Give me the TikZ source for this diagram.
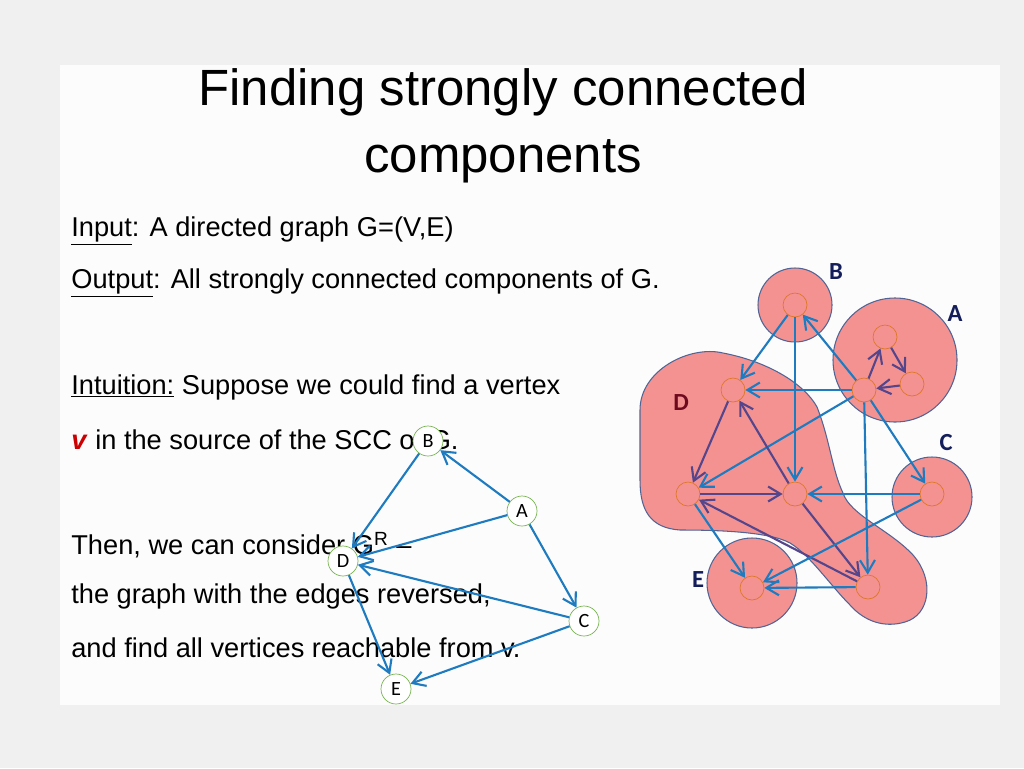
\documentclass[tikz,border=0pt]{standalone}
\usepackage{fontspec}
\setmainfont{Liberation Sans}
\newfontfamily\lblfont{Carlito}
\usetikzlibrary{arrows.meta}
\definecolor{edgeblue}{RGB}{31,123,192}
\definecolor{edgepurple}{RGB}{85,70,140}
\definecolor{blobred}{RGB}{244,146,146}
\definecolor{blobline}{RGB}{80,100,150}
\definecolor{vtxline}{RGB}{220,120,40}
\definecolor{navy}{RGB}{20,30,90}
\definecolor{darkred}{RGB}{110,10,30}
\definecolor{sgreen}{RGB}{120,180,80}
\tikzset{
  vtx/.style={circle,draw=vtxline,fill=blobred,minimum size=0.48cm,inner sep=0pt},
  svtx/.style={circle,draw=sgreen,fill=white,minimum size=0.6cm,inner sep=0pt,font=\lblfont\fontsize{11.5}{11.5}\selectfont},
  blob/.style={draw=blobline,fill=blobred,line width=0.6pt},
  bedge/.style={draw=edgeblue,line width=1.2pt,-{Straight Barb[length=2.5mm,width=3mm]}},
  pedge/.style={draw=edgepurple,line width=1.2pt,-{Straight Barb[length=2.5mm,width=3mm]}},
  sedge/.style={draw=edgeblue,line width=1.2pt,-{Straight Barb[length=2.5mm,width=3mm]}},
  txt/.style={anchor=west,inner sep=0pt,font=\fontsize{15.5}{18}\selectfont},
  cname/.style={font=\lblfont\bfseries\fontsize{14}{14}\selectfont,text=navy}
}
\begin{document}
\begin{tikzpicture}[x=0.02cm,y=-0.02cm]
  % background
  \fill[gray!12] (0,0) rectangle (1024,768);
  \fill[white,opacity=0.8] (60,65) rectangle (1000,705);
  \useasboundingbox (0,0) rectangle (1024,768);

  % title and text
  \node (title) at (503,92) {\fontsize{29}{34}\selectfont Finding strongly connected};
  \node (title2) at (503,161) {\fontsize{29}{34}\selectfont components};
  \node[txt] (input) at (71,231) {\underline{Input}: A directed graph G=(V,E)};
  \node[txt] (output) at (71,283) {\underline{Output}: All strongly connected components of G.};
  \node[txt] (intu) at (71,387) {\underline{Intuition:} Suppose we could find a vertex};
  \node[txt] (vline) at (71,440) {\textcolor{red!80!black}{\textbf{\textit{v}}} in the source of the SCC of G.};
  \node[txt] (then) at (71,545) {Then, we can consider G\textsuperscript{R} --};
  \node[txt] (graphr) at (71,596) {the graph with the edges reversed,};
  \node[txt] (find) at (71,648) {and find all vertices reachable from v.};

  % components
  \draw[blob] (640,410) .. controls (640,370) and (690,345) .. (723,353)
    .. controls (770,362) and (805,385) .. (817,407)
    .. controls (830,440) and (832,470) .. (843,493)
    .. controls (850,515) and (890,530) .. (913,555)
    .. controls (935,580) and (930,615) .. (905,622)
    .. controls (885,628) and (865,622) .. (850,605)
    .. controls (830,585) and (810,555) .. (790,543)
    .. controls (770,532) and (720,530) .. (680,530)
    .. controls (650,528) and (640,510) .. (640,480) -- cycle;
  \draw[blob] (795,305) circle (37);
  \draw[blob] (895,360) circle (62);
  \draw[blob] (932,497) circle (40);
  \draw[blob] (752,583) circle (45);
  \node[cname] (lb) at (836,272) {B};
  \node[cname] (la) at (955,314) {A};
  \node[cname] (lc) at (946,443) {C};
  \node[cname] (le) at (698,580) {E};
  \node[cname,text=darkred] (ld) at (681,403) {D};

  % vertices
  \node[vtx] (b1) at (795,305) {};
  \node[vtx] (a1) at (885,337) {};
  \node[vtx] (a2) at (912,384) {};
  \node[vtx] (a0) at (864,390) {};
  \node[vtx] (d1) at (733,390) {};
  \node[vtx] (d2) at (688,494) {};
  \node[vtx] (d3) at (795,494) {};
  \node[vtx] (d4) at (868,587) {};
  \node[vtx] (c1) at (932,494) {};
  \node[vtx] (e1) at (752,588) {};

  % edges
  \draw[bedge] (b1) -- (d1);
  \draw[bedge] (b1) -- (d3);
  \draw[bedge] (a0) -- (b1);
  \draw[bedge] (a0) -- (d1);
  \draw[bedge] (a0) -- (d2);
  \draw[bedge] (a0) -- (c1);
  \draw[bedge] (a0) -- (d4);
  \draw[pedge] (a0) -- (a1);
  \draw[pedge] (a1) -- (a2);
  \draw[pedge] (a2) -- (a0);
  \draw[pedge] (d1) -- (d2);
  \draw[pedge] (d3) -- (d1);
  \draw[pedge] (d2) -- (d3);
  \draw[bedge] (c1) -- (d3);
  \draw[pedge] (d3) -- (d4);
  \draw[pedge] (d4) -- (d2);
  \draw[bedge] (d2) -- (e1);
  \draw[bedge] (c1) -- (e1);
  \draw[bedge] (d4) -- (e1);

  % small graph
  \node[svtx] (sb) at (428,441) {B};
  \node[svtx] (sa) at (522,511) {A};
  \node[svtx] (sd) at (343,561) {D};
  \node[svtx] (sc) at (584,621) {C};
  \node[svtx] (se) at (396,689) {E};
  \draw[sedge] (sa) -- (sb);
  \draw[sedge] (sb) -- (sd);
  \draw[sedge] (sa) -- (sd);
  \draw[sedge] (sa) -- (sc);
  \draw[sedge] (sc) -- (sd);
  \draw[sedge] (sc) -- (se);
  \draw[sedge] (sd) -- (se);
\end{tikzpicture}
\end{document}
